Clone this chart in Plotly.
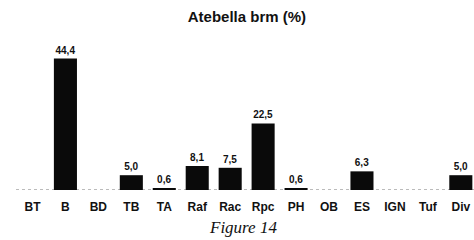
import plotly.graph_objects as go

categories = ["BT", "B", "BD", "TB", "TA", "Raf", "Rac", "Rpc", "PH", "OB", "ES", "IGN", "Tuf", "Div"]
values = [0, 44.4, 0, 5.0, 0.6, 8.1, 7.5, 22.5, 0.6, 0, 6.3, 0, 0, 5.0]
labels = ["" if v == 0 else "<b>" + f"{v:.1f}".replace(".", ",") + "</b>" for v in values]

fig = go.Figure()
fig.add_trace(go.Bar(
    x=categories, y=values, text=labels, textposition="outside",
    textfont=dict(family="Liberation Sans", size=10, color="#111"),
    marker=dict(color="#0a0a0a", line=dict(width=0)),
    width=0.7, cliponaxis=False, hoverinfo="skip",
))
fig.add_shape(type="line", xref="paper", yref="y", x0=0, x1=1, y0=0, y1=0,
              line=dict(color="#777", width=1, dash="dot"), layer="below")
fig.add_annotation(text="<i>Figure 14</i>", xref="paper", yref="paper", x=0.496, y=-0.25,
                   xanchor="center", yanchor="middle",
                   showarrow=False, font=dict(family="Liberation Serif", size=17, color="#111"))
fig.update_layout(
    width=474, height=240,
    margin=dict(l=16, r=0, t=42, b=50),
    paper_bgcolor="white", plot_bgcolor="white",
    showlegend=False,
    title=dict(text="<b>Atebella brm (%)</b>", x=0.521, xanchor="center", y=0.929, yanchor="middle",
               font=dict(family="Liberation Sans", size=15, color="#111")),
    xaxis=dict(range=[-0.5, 13.4], showgrid=False, zeroline=False, showline=False, ticks="",
               ticklabelstandoff=8,
               tickfont=dict(family="Liberation Sans", size=12, color="#111"),
               tickvals=categories, ticktext=[f"<b>{c}</b>" for c in categories]),
    yaxis=dict(range=[0, 50], visible=False),
    bargap=0.3,
)
fig.write_html("out.html", config={"displayModeBar": False},
               post_script="document.body.style.margin='0';document.body.style.overflow='hidden';")
